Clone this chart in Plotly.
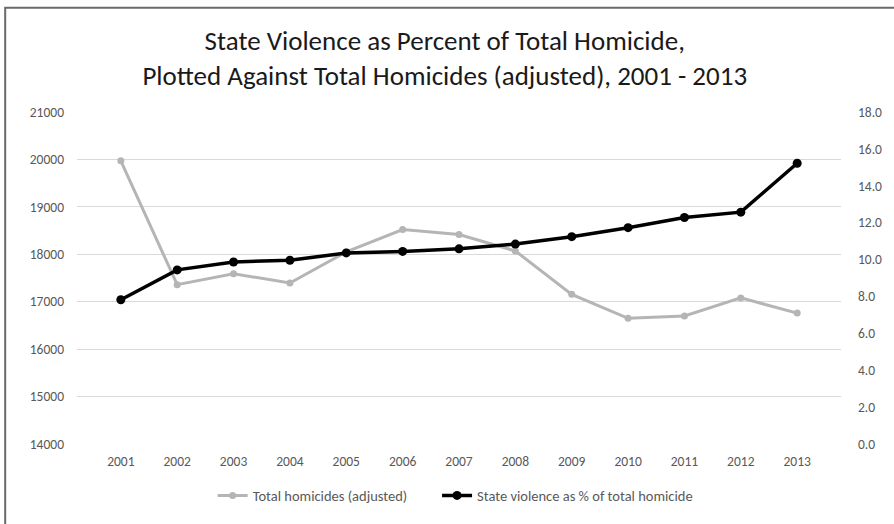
import plotly.graph_objects as go

years = ["2001", "2002", "2003", "2004", "2005", "2006", "2007",
         "2008", "2009", "2010", "2011", "2012", "2013"]
total_homicides = [19970, 17360, 17590, 17395, 18050, 18520, 18415,
                   18070, 17155, 16650, 16700, 17080, 16760]
state_violence_pct = [7.82, 9.44, 9.87, 9.96, 10.36, 10.44, 10.58,
                      10.84, 11.24, 11.73, 12.28, 12.57, 15.22]
left_ticks = [14000, 15000, 16000, 17000, 18000, 19000, 20000, 21000]

FONT = "Carlito, 'Liberation Sans Narrow', Lato, sans-serif"
TICK_COLOR = "#595959"

fig = go.Figure()
fig.add_trace(go.Scatter(
    x=years, y=total_homicides, name="Total homicides (adjusted)",
    mode="lines+markers",
    line=dict(color="#b5b5b5", width=3),
    marker=dict(color="#b5b5b5", size=7),
    yaxis="y", legend="legend",
))
fig.add_trace(go.Scatter(
    x=years, y=state_violence_pct, name="State violence as % of total homicide",
    mode="lines+markers",
    line=dict(color="#000000", width=3.5),
    marker=dict(color="#000000", size=9),
    yaxis="y2", legend="legend2",
))

legend_common = dict(
    orientation="h", xanchor="left", y=-0.155, yanchor="middle",
    font=dict(size=14.5, color=TICK_COLOR), itemwidth=30,
    bgcolor="rgba(0,0,0,0)",
)

fig.update_layout(
    width=894, height=524,
    margin=dict(l=77, r=51, t=112, b=75),
    paper_bgcolor="white", plot_bgcolor="white",
    font=dict(family=FONT, size=13.5, color=TICK_COLOR),
    title=dict(
        text="State Violence as Percent of Total Homicide,<br>Plotted Against Total Homicides (adjusted), 2001 - 2013",
        x=0.4975, xanchor="center", xref="container", y=0.904, yanchor="middle",
        font=dict(family=FONT, size=27, color="#1a1a1a"),
    ),
    xaxis=dict(
        type="category", showgrid=False, showline=False, ticks="",
        tickfont=dict(size=13.5, color=TICK_COLOR), ticklabelstandoff=7,
    ),
    yaxis=dict(
        range=[14000, 21000], tickvals=left_ticks, tickformat="d", showgrid=True,
        gridcolor="#d9d9d9", gridwidth=1.3, zeroline=False, showline=False,
        tickfont=dict(size=13.5, color=TICK_COLOR), ticklabelstandoff=12,
    ),
    yaxis2=dict(
        range=[0, 18], dtick=2, tickformat=".1f", overlaying="y", side="right",
        showgrid=False, zeroline=False, showline=False,
        tickfont=dict(size=13.5, color=TICK_COLOR), ticklabelstandoff=16,
    ),
    legend=dict(legend_common, x=(213 - 77) / 766),
    legend2=dict(legend_common, x=(438 - 77) / 766),
    showlegend=True,
    shapes=[dict(
        type="rect", xref="paper", yref="paper",
        x0=(5 - 77) / 766, x1=(920 - 77) / 766,
        y0=(449 - 540) / 336.3, y1=(449 - 7) / 336.3,
        line=dict(color="#6a6a6a", width=2), fillcolor="rgba(0,0,0,0)",
        layer="below",
    )],
)

fig.write_html("out.html")
